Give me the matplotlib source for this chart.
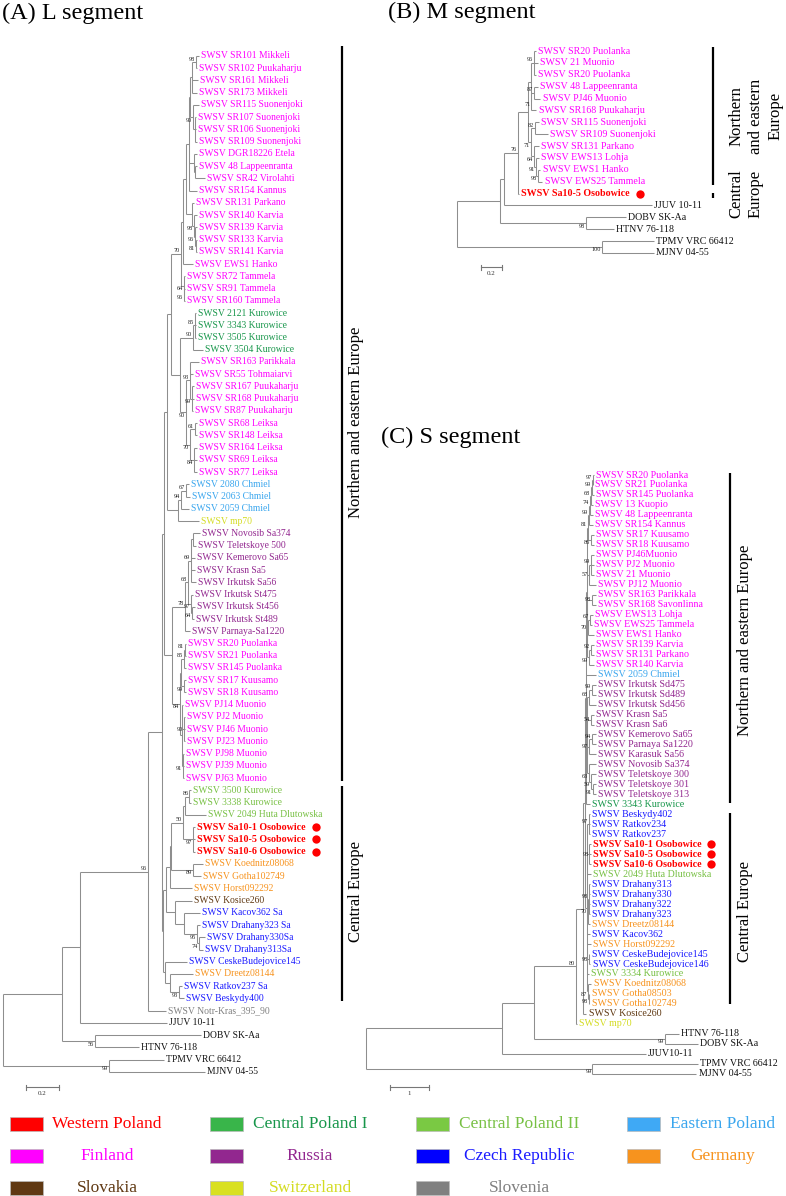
import re
import matplotlib
matplotlib.use("Agg")
import matplotlib.pyplot as plt
from matplotlib.collections import LineCollection
from matplotlib.patches import Rectangle

plt.rcParams['font.family'] = ['Liberation Serif', 'DejaVu Serif']

W, H = 786, 1196
fig = plt.figure(figsize=(W / 100, H / 100), dpi=100)

# ---------------- data ----------------
REGION_CODES = ['WP', 'CP1', 'CP2', 'EP', 'FI', 'RU', 'CZ', 'DE', 'SK', 'CH', 'SI']
REGION_NAMES = ['Western Poland', 'Central Poland I', 'Central Poland II', 'Eastern Poland',
                'Finland', 'Russia', 'Czech Republic', 'Germany',
                'Slovakia', 'Switzerland', 'Slovenia']
PATCH_COLORS = ['#FF0000', '#39B54A', '#7AC943', '#3FA9F5', '#FF00FF', '#92278F',
                '#0000FF', '#F7931E', '#603913', '#D9E021', '#808080']
TEXT_COLORS = ['#FF0000', '#17964A', '#77C043', '#3AA6EE', '#FF00FF', '#92278F',
               '#1A1AFF', '#F7931E', '#603913', '#D4DC22', '#808080']
OUTGROUP_COLOR = '#111111'

# Clades in Newick-like notation: leaf = 'label|region', internal label = bootstrap,
# number after ':' = distance of the node from the root (substitutions/site).

# ----- L segment -----
L_FIN_A = ("(('SWSV SR101 Mikkeli|FI':1.191,'SWSV SR102 Puukaharju|FI':1.179)98:1.173,"
           "'SWSV SR161 Mikkeli|FI':1.185,'SWSV SR173 Mikkeli|FI':1.179):1.148")
L_FIN_B = ("('SWSV SR115 Suonenjoki|FI':1.191,('SWSV SR107 Suonenjoki|FI':1.173,"
           "'SWSV SR106 Suonenjoki|FI':1.173,'SWSV SR109 Suonenjoki|FI':1.179):1.167)90:1.155")
L_FIN_C = ("('SWSV DGR18226 Etela|FI':1.179,('SWSV 48 Lappeenranta|FI':1.179,"
           "'SWSV SR42 Virolahti|FI':1.227):1.167):1.161")
L_KARVIA = ("('SWSV SR131 Parkano|FI':1.161,('SWSV SR140 Karvia|FI':1.179,('SWSV SR139 Karvia|FI':1.179,"
            "('SWSV SR133 Karvia|FI':1.179,'SWSV SR141 Karvia|FI':1.179)81:1.173)96:1.167)98:1.161):1.148")
L_TAMMELA = ("('SWSV SR72 Tammela|FI':1.106,('SWSV SR91 Tammela|FI':1.106,"
             "'SWSV SR160 Tammela|FI':1.106)96:1.100)64:1.097")
L_KUROWICE = ("(('SWSV 2121 Kurowice|CP1':1.173,'SWSV 3343 Kurowice|CP1':1.173,"
              "'SWSV 3505 Kurowice|CP1':1.173)85:1.164,'SWSV 3504 Kurowice|CP1':1.215)90:1.155")
L_FIN_EAST = ("(('SWSV SR163 Parikkala|FI':1.191,'SWSV SR55 Tohmaiarvi|FI':1.155,"
              "('SWSV SR167 Puukaharju|FI':1.161,'SWSV SR168 Puukaharju|FI':1.161,"
              "'SWSV SR87 Puukaharju|FI':1.155)99:1.148)93:1.136,"
              "(('SWSV SR68 Leiksa|FI':1.179,'SWSV SR148 Leiksa|FI':1.179)61:1.167,"
              "('SWSV SR164 Leiksa|FI':1.179,'SWSV SR69 Leiksa|FI':1.179,"
              "'SWSV SR77 Leiksa|FI':1.179)84:1.161)70:1.136)90:1.112")
L_CHMIEL = ("((('SWSV 2080 Chmiel|EP':1.130,'SWSV 2063 Chmiel|EP':1.136)67:1.112,"
            "'SWSV 2059 Chmiel|EP':1.130)94:1.082,'SWSV mp70|CH':1.191):1.064")
L_RUSSIA = ("(((('SWSV Novosib Sa374|RU':1.197,'SWSV Teletskoye 500|RU':1.173):1.155,"
            "'SWSV Kemerovo Sa65|RU':1.167,'SWSV Krasn Sa5|RU':1.167,'SWSV Irkutsk Sa56|RU':1.173)69:1.142,"
            "('SWSV Irkutsk St475|RU':1.155,('SWSV Irkutsk St456|RU':1.167,"
            "'SWSV Irkutsk St489|RU':1.161)64:1.148)97:1.142)68:1.124,"
            "'SWSV Parnaya-Sa1220|RU':1.136)78:1.106")
L_FIN_NORTH = ("(((('SWSV SR20 Puolanka|FI':1.112,'SWSV SR21 Puolanka|FI':1.112)81:1.106,"
               "'SWSV SR145 Puolanka|FI':1.112)85:1.100,"
               "('SWSV SR17 Kuusamo|FI':1.112,'SWSV SR18 Kuusamo|FI':1.112)99:1.100):1.082,"
               "('SWSV PJ14 Muonio|FI':1.094,"
               "('SWSV PJ2 Muonio|FI':1.106,'SWSV PJ46 Muonio|FI':1.106,'SWSV PJ23 Muonio|FI':1.106)90:1.097,"
               "('SWSV PJ98 Muonio|FI':1.100,'SWSV PJ39 Muonio|FI':1.100,"
               "'SWSV PJ63 Muonio|FI':1.100)91:1.094):1.088)84:1.076")
L_CE_POLAND = ("((('SWSV 3500 Kurowice|CP2':1.142,'SWSV 3338 Kurowice|CP2':1.142)86:1.133,"
               "'SWSV 2049 Huta Dlutowska|CP2':1.233):1.106,"
               "('SWSV Sa10-1 Osobowice|WP':1.167,'SWSV Sa10-5 Osobowice|WP':1.167,"
               "'SWSV Sa10-6 Osobowice|WP':1.167)97:1.155)50:1.091")
L_GERMANY = "('SWSV Koednitz08068|DE':1.215,'SWSV Gotha102749|DE':1.203)89:1.155"
L_CZECH = ("('SWSV Kosice260|SK':1.148,('SWSV Kacov362 Sa|CZ':1.197,('SWSV Drahany323 Sa|CZ':1.197,"
           "('SWSV Drahany330Sa|CZ':1.227,'SWSV Drahany313Sa|CZ':1.215)74:1.191)95:1.179):1.100):1.045")
L_CB = ("('SWSV CeskeBudejovice145|CZ':1.118,('SWSV Dreetz08144|DE':1.155,"
        "('SWSV Ratkov237 Sa|CZ':1.088,'SWSV Beskydy400|CZ':1.100)93:1.070):1.015):0.985")

L_NORTH = (f"(((((((({L_FIN_A},{L_FIN_B}):1.136,{L_FIN_C},'SWSV SR154 Kannus|FI':1.179):1.130,"
           f"{L_KARVIA}):1.112,'SWSV EWS1 Hanko|FI':1.155):1.094,{L_TAMMELA})70:1.082,"
           f"({L_KUROWICE},{L_FIN_EAST}):1.076):1.021,{L_CHMIEL}):0.997,"
           f"({L_RUSSIA},{L_FIN_NORTH}):1.027):0.979")
L_CENTRAL = (f"(((({L_CE_POLAND},{L_GERMANY}):1.021,'SWSV Horst092292|DE':1.148):1.015,"
             f"{L_CZECH}):0.991,{L_CB}):0.973")
L_TREE = (f"((((({L_NORTH},{L_CENTRAL}):0.967,'SWSV Notr-Kras_395_90|SI':0.991)96:0.882,"
          f"'JJUV 10-11|OUT':0.997):0.470,"
          f"('DOBV SK-Aa|OUT':1.203,'HTNV 76-118|OUT':0.827)56:0.561):0.361,"
          f"('TPMV VRC 66412|OUT':0.979,'MJNV 04-55|OUT':1.227)99:0.645):0")

# ----- M segment -----
M_FIN_A = ("(('SWSV SR20 Puolanka|FI':0.755,'SWSV 21 Muonio|FI':0.770,'SWSV SR20 Puolanka|FI':0.755)96:0.736,"
           "(('SWSV 48 Lappeenranta|FI':0.770,'SWSV PJ46 Muonio|FI':0.798)87:0.736,"
           "'SWSV SR168 Puukaharju|FI':0.760)71:0.712):0.708")
M_FIN_B = ("(('SWSV SR115 Suonenjoki|FI':0.784,'SWSV SR109 Suonenjoki|FI':0.870)82:0.746,"
           "('SWSV SR131 Parkano|FI':0.784,('SWSV EWS13 Lohja|FI':0.784,('SWSV EWS1 Hanko|FI':0.798,"
           "'SWSV EWS25 Tammela|FI':0.817)98:0.774)91:0.755)64:0.736)71:0.708")
M_SWSV = f"(({M_FIN_A},{M_FIN_B}):0.676,'SWSV Sa10-5 Osobowice|WP':0.593)76:0.584"
M_TREE = (f"((({M_SWSV},'JJUV 10-11|OUT':1.860):0.450,"
          f"('DOBV SK-Aa|OUT':1.612,'HTNV 76-118|OUT':1.498)98:1.231):0.412,"
          f"('TPMV VRC 66412|OUT':1.879,'MJNV 04-55|OUT':1.879)100:1.384):0")

# ----- S segment -----
S_FIN_A = ("((((('SWSV SR20 Puolanka|FI':5.922,'SWSV SR21 Puolanka|FI':5.904)97:5.896,"
           "'SWSV SR145 Puolanka|FI':5.922)99:5.870,'SWSV 13 Kuopio|FI':5.896)68:5.844,"
           "'SWSV 48 Lappeenranta|FI':5.896)74:5.818,'SWSV SR154 Kannus|FI':5.896)99:5.792")
S_KUUSAMO = "('SWSV SR17 Kuusamo|FI':5.922,'SWSV SR18 Kuusamo|FI':5.922)86:5.844"
S_MUONIO = ("(('SWSV PJ46Muonio|FI':5.922,'SWSV PJ2 Muonio|FI':5.922,'SWSV 21 Muonio|FI':5.922)99:5.844,"
            "'SWSV PJ12 Muonio|FI':5.974)57:5.792")
S_SAVO = "('SWSV SR163 Parikkala|FI':5.974,'SWSV SR168 Savonlinna|FI':5.974)98:5.870"
S_WEST = ("(('SWSV EWS13 Lohja|FI':5.896,'SWSV EWS25 Tammela|FI':5.870)67:5.818,"
          "'SWSV EWS1 Hanko|FI':5.922)70:5.766")
S_KARVIA = ("(('SWSV SR139 Karvia|FI':5.922,'SWSV SR131 Parkano|FI':5.922)92:5.844,"
            "'SWSV SR140 Karvia|FI':5.922)99:5.792")
S_RUSSIA = ("((('SWSV Irkutsk Sd475|RU':5.974,'SWSV Irkutsk Sd489|RU':5.974)99:5.870,"
            "'SWSV Irkutsk Sd456|RU':5.974)68:5.792,"
            "('SWSV Krasn Sa5|RU':5.922,'SWSV Krasn Sa6|RU':5.922)54:5.844,"
            "(('SWSV Kemerovo Sa65|RU':5.974,'SWSV Parnaya Sa1220|RU':5.974)94:5.870,"
            "'SWSV Karasuk Sa56|RU':5.974)97:5.792,"
            "('SWSV Novosib Sa374|RU':5.974,('SWSV Teletskoye 300|RU':5.974,('SWSV Teletskoye 301|RU':5.974,"
            "'SWSV Teletskoye 313|RU':5.974)91:5.896)59:5.844)63:5.792):5.740")
S_CENTRAL = ("(('SWSV Beskydy402|CZ':5.818,'SWSV Ratkov234|CZ':5.818,'SWSV Ratkov237|CZ':5.818)97:5.792,"
             "('SWSV Sa10-1 Osobowice|WP':5.836,'SWSV Sa10-5 Osobowice|WP':5.836,"
             "'SWSV Sa10-6 Osobowice|WP':5.836)98:5.805,"
             "'SWSV 2049 Huta Dlutowska|CP2':5.844,"
             "(('SWSV Drahany313|CZ':5.818,'SWSV Drahany330|CZ':5.818,'SWSV Drahany322|CZ':5.818,"
             "'SWSV Drahany323|CZ':5.818)98:5.792,'SWSV Dreetz08144|DE':5.818)70:5.766,"
             "'SWSV Kacov362|CZ':5.818,'SWSV Horst092292|DE':5.844,"
             "('SWSV CeskeBudejovice145|CZ':5.805,'SWSV CeskeBudejovice146|CZ':5.831)98:5.792,"
             "'SWSV 3334 Kurowice|CP2':5.792,"
             "('SWSV Koednitz08068|DE':5.857,('SWSV Gotha08503|DE':5.805,"
             "'SWSV Gotha102749|DE':5.805)98:5.792)87:5.766):5.740")
S_NORTH = (f"(({S_FIN_A},{S_KUUSAMO})81:5.766,{S_MUONIO},{S_SAVO},{S_WEST},{S_KARVIA}):5.740")
S_NE = f"({S_NORTH},'SWSV 2059 Chmiel|EP':5.974,{S_RUSSIA},'SWSV 3343 Kurowice|CP1':5.818):5.714"
S_TREE = (f"(((((({S_NE},{S_CENTRAL}):5.688,'SWSV Kosice260|SK':5.727):5.636,"
          f"'SWSV mp70|CH':5.468)80:5.455,"
          f"('HTNV 76-118|OUT':8.130,'DOBV SK-Aa|OUT':8.623)99:7.766):4.364,"
          f"'JJUV10-11|OUT':7.260):3.545,"
          f"('TPMV VRC 66412|OUT':8.623,'MJNV 04-55|OUT':8.584)99:5.883):0")

SCALE_LENGTHS = {'L': 0.2, 'M': 0.2, 'S': 1.0}
GROUP_LABELS = {'L': ['Northern and eastern Europe', 'Central Europe'],
                'M': ['Northern\nand eastern\nEurope', 'Central\nEurope'],
                'S': ['Northern and eastern Europe', 'Central Europe']}
TITLES = {'L': '(A) L segment', 'M': '(B) M segment', 'S': '(C) S segment'}


# ---------------- helpers ----------------
def parse_tree(s):
    pos = 0
    n = len(s)

    def skip():
        nonlocal pos
        while pos < n and s[pos] in ' \n\t':
            pos += 1

    def node():
        nonlocal pos
        skip()
        children = []
        if s[pos] == '(':
            pos += 1
            while True:
                children.append(node())
                skip()
                if s[pos] == ',':
                    pos += 1
                    continue
                if s[pos] == ')':
                    pos += 1
                    break
                raise ValueError('bad tree at %d' % pos)
        skip()
        if pos < n and s[pos] == "'":
            end = s.index("'", pos + 1)
            label = s[pos + 1:end]
            pos = end + 1
        else:
            m = re.match(r"[^:,()\s]*", s[pos:])
            label = m.group(0)
            pos += len(label)
        skip()
        depth = 0.0
        if pos < n and s[pos] == ':':
            m = re.match(r":\s*([-+0-9.eE]+)", s[pos:])
            depth = float(m.group(1))
            pos += len(m.group(0))
        return {'label': label, 'depth': depth, 'children': children}

    root = node()
    if pos != n:
        raise ValueError('trailing text in tree at %d' % pos)
    return root


class Panel:
    def __init__(self, root_px, ppu, y0, dy):
        self.root_px, self.ppu, self.y0, self.dy = root_px, ppu, y0, dy
        ax = fig.add_axes([0, 0, 1, 1])
        ax.set_facecolor('none')
        ax.set_xlim(-root_px / ppu, (W - root_px) / ppu)
        ax.set_ylim((H - y0) / dy, -y0 / dy)
        ax.axis('off')
        self.ax = ax

    def px(self, x):
        return (x - self.root_px) / self.ppu

    def py(self, y):
        return (y - self.y0) / self.dy


LINE_COLOR = '#8e8e8e'


def draw_tree(panel, tree_str, fs_leaf, fs_bold, fs_bs):
    ax = panel.ax
    root = parse_tree(tree_str)
    leaves = []

    def assign(nd):
        if not nd['children']:
            nd['y'] = len(leaves)
            leaves.append(nd)
        else:
            for c in nd['children']:
                assign(c)
            nd['y'] = (nd['children'][0]['y'] + nd['children'][-1]['y']) / 2.0

    assign(root)
    segs = []
    wp_texts = []

    def walk(nd):
        ch = nd['children']
        if not ch:
            return
        segs.append([(nd['depth'], ch[0]['y']), (nd['depth'], ch[-1]['y'])])
        for i, c in enumerate(ch):
            segs.append([(nd['depth'], c['y']), (c['depth'], c['y'])])
            if c['children'] and c['label']:
                if i == 0:
                    va, dyo = 'bottom', 0.3
                elif i == len(ch) - 1:
                    va, dyo = 'top', -0.3
                else:
                    va, dyo = 'center', 0
                ax.annotate(c['label'], (c['depth'], c['y']), xytext=(-0.6, dyo),
                            textcoords='offset points', ha='right', va=va,
                            fontsize=fs_bs, color='#222222')
            walk(c)

    walk(root)
    ax.add_collection(LineCollection(segs, colors=LINE_COLOR, linewidths=0.75))

    for lf in leaves:
        name, reg = lf['label'].split('|')
        if reg in REGION_CODES:
            col = TEXT_COLORS[REGION_CODES.index(reg)]
        else:
            col = OUTGROUP_COLOR
        bold = reg == 'WP'
        t = ax.annotate(name, (lf['depth'], lf['y']), xytext=(1.5, 0),
                        textcoords='offset points', ha='left', va='center',
                        fontsize=fs_bold if bold else fs_leaf, color=col,
                        fontweight='bold' if bold else 'normal')
        if bold:
            wp_texts.append((t, lf['y']))
    return leaves, wp_texts


def draw_bar(panel, x_px, i0, i1, pad0_px, pad1_px):
    y0 = i0 - pad0_px / panel.dy
    y1 = i1 + pad1_px / panel.dy
    panel.ax.plot([panel.px(x_px)] * 2, [y0, y1], color='black', lw=1.6,
                  solid_capstyle='butt')


def draw_scale(panel, x_px, y_px, length, label):
    ax = panel.ax
    x0 = panel.px(x_px)
    y = panel.py(y_px)
    t = 2.5 / panel.dy
    ax.plot([x0, x0 + length], [y, y], color='#777777', lw=0.8)
    ax.plot([x0, x0], [y - t, y + t], color='#777777', lw=0.8)
    ax.plot([x0 + length] * 2, [y - t, y + t], color='#777777', lw=0.8)
    ax.text(x0 + length / 2, y + 4 / panel.dy, label, ha='center', va='top',
            fontsize=5, color='#333333')


def fig_text(x_px, y_px, s, **kw):
    fig.text(x_px / W, 1 - y_px / H, s, **kw)


# ---------------- panels ----------------
pL = Panel(root_px=2.5, ppu=165.0, y0=56.0, dy=12.24)
pM = Panel(root_px=456.7, ppu=105.0, y0=51.0, dy=11.88)
pS = Panel(root_px=366.0, ppu=38.5, y0=475.0, dy=9.98)

leavesL, wpL = draw_tree(pL, L_TREE, 6.9, 7.2, 4.5)
leavesM, wpM = draw_tree(pM, M_TREE, 7.2, 7.2, 4.5)
leavesS, wpS = draw_tree(pS, S_TREE, 7.2, 7.2, 4.5)

# group bars
draw_bar(pL, 342, 0, 59, 10, 3)
draw_bar(pL, 342, 60, 77, 4, 2.5)
draw_bar(pM, 713, 0, 11, 4, 3)
draw_bar(pM, 713, 12, 12, 1, 4)
draw_bar(pS, 730, 0, 33, 2, -1)
draw_bar(pS, 730, 34, 53, 1, 0)

gkw = dict(rotation=90, ha='center', va='center', fontsize=12, color='black',
           multialignment='center')
fig_text(356, 422, GROUP_LABELS['L'][0], **gkw)
fig_text(356, 891, GROUP_LABELS['L'][1], **gkw)
fig_text(756, 116, GROUP_LABELS['M'][0], linespacing=1.3, **gkw)
fig_text(746, 194, GROUP_LABELS['M'][1], linespacing=1.3, **gkw)
fig_text(745, 640, GROUP_LABELS['S'][0], **gkw)
fig_text(745, 911, GROUP_LABELS['S'][1], **gkw)

# scale bars
draw_scale(pL, 26, 1087, SCALE_LENGTHS['L'], '0.2')
draw_scale(pM, 481, 267, SCALE_LENGTHS['M'], '0.2')
draw_scale(pS, 390, 1087, SCALE_LENGTHS['S'], '1')

# titles
tkw = dict(ha='left', va='center', fontsize=17.5, color='black')
fig_text(2, 13, TITLES['L'], **tkw)
fig_text(388, 12, TITLES['M'], **tkw)
fig_text(381, 437, TITLES['S'], **tkw)

# legend
leg_ax = fig.add_axes([0, 0, 1, 1])
leg_ax.set_facecolor('none')
leg_ax.set_xlim(0, W)
leg_ax.set_ylim(H, 0)
leg_ax.axis('off')
col_left = [10, 210, 416, 627]
col_center = [107, 310, 519, 723]
row_center = [1124, 1155.5, 1187.5]
for k, (name, pc, tc) in enumerate(zip(REGION_NAMES, PATCH_COLORS, TEXT_COLORS)):
    r, c = divmod(k, 4)
    leg_ax.add_patch(Rectangle((col_left[c], row_center[r] - 7), 33, 14,
                               facecolor=pc, edgecolor='#bbbbbb', lw=0.5))
    leg_ax.text(col_center[c], row_center[r], name, ha='center', va='center',
                fontsize=12.5, color=tc)

# red dots after the Western Poland labels
fig.canvas.draw()
renderer = fig.canvas.get_renderer()
for panel, wp in ((pL, wpL), (pM, wpM), (pS, wpS)):
    for t, yl in wp:
        bb = t.get_window_extent(renderer)
        xd, _ = panel.ax.transData.inverted().transform((bb.x1 + 10, bb.y0))
        panel.ax.plot([xd], [yl], 'o', color='#FF0000', markersize=6,
                      markeredgewidth=0)

fig.savefig('out.png', dpi=100)
